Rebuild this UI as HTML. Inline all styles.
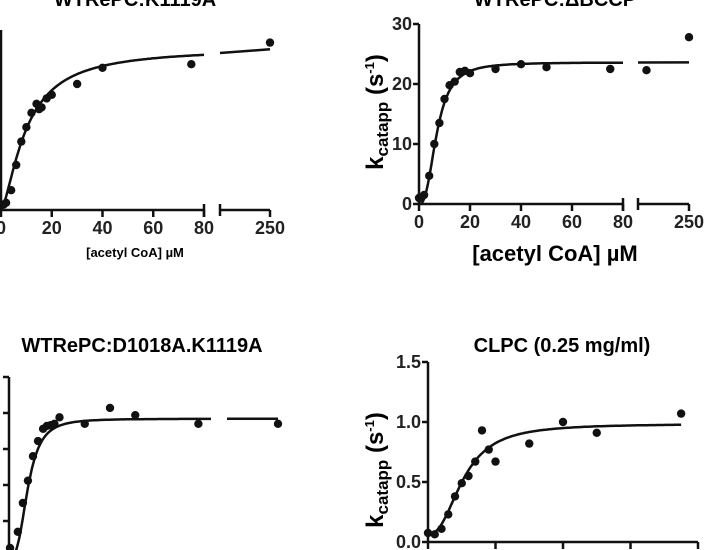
<!DOCTYPE html>
<html><head><meta charset="utf-8"><style>
html,body{margin:0;padding:0;background:#fff;width:720px;height:550px;overflow:hidden}
svg{display:block;font-family:"Liberation Sans",Arial,sans-serif;font-weight:bold}
</style></head><body>
<svg id="fig" width="720" height="550" viewBox="0 0 720 550">
<text x="135" y="6" font-size="20" text-anchor="middle">WTRePC:K1119A</text>
<text x="555" y="6" font-size="20" text-anchor="middle">WTRePC:ΔBCCP</text>
<text x="142" y="352" font-size="20" text-anchor="middle">WTRePC:D1018A.K1119A</text>
<text x="562" y="352" font-size="20" text-anchor="middle">CLPC (0.25 mg/ml)</text>
<text x="135" y="257" font-size="13" text-anchor="middle">[acetyl CoA] µM</text>
<text x="555" y="261" font-size="22" text-anchor="middle">[acetyl CoA] µM</text>
<text transform="translate(383,112) rotate(-90)" font-size="24" text-anchor="middle">k<tspan font-size="17" dy="5">catapp</tspan><tspan dy="-5"> (s</tspan><tspan font-size="13" dy="-9">-1</tspan><tspan dy="9">)</tspan></text>
<text transform="translate(383,470) rotate(-90)" font-size="24" text-anchor="middle">k<tspan font-size="17" dy="5">catapp</tspan><tspan dy="-5"> (s</tspan><tspan font-size="13" dy="-9">-1</tspan><tspan dy="9">)</tspan></text>
</svg>
<script>
// Panel A data
const aX = [1,2,4,6,8,10,12,14,15,16,18,20,30,40,75,250];
const aY = [3,4,11,25,38,46,54,59,56,57,62,64,70,79,81,93];
const aXTicks = [0,20,40,60,80];
const aXTicks2 = [250];
// Panel B data
const bX = [0,2,4,6,8,10,12,14,16,18,20,30,40,50,75,125,250];
const bY = [1,1.5,4.7,10,13.5,17.5,19.8,20.4,22,22.2,21.8,22.5,23.3,22.8,22.5,22.3,27.8];
const bYTicks = [0,10,20,30];
const bXTicks = [0,20,40,60,80];
const bXTicks2 = [250];
// Panel C data
const cX = [0.4,3.5,5.5,7.5,9.5,11.5,13.5,15,16.5,18,20,30,40,50,75,250];
const cY = [1.25,3.5,7.5,10.6,14,16.1,17.8,18.2,18.3,18.5,19.4,18.5,20.7,19.7,18.5,18.5];
const cYTicks = [0,5,10,15,20,25];
// Panel D data
const dX = [0,2,4,6,8,10,12,14,16,18,20,30,40,50,75];
const dY = [0.075,0.064,0.11,0.23,0.38,0.49,0.55,0.67,0.93,0.77,0.67,0.82,1.0,0.91,1.07];
const dYTicks = [0,0.5,1.0,1.5];
const dYLabels = ['0.0','0.5','1.0','1.5'];
const dXTicks = [0,20,40,60,80];

const NS='http://www.w3.org/2000/svg';
const svg=document.getElementById('fig');
function mk(tag,attrs,name,parent){
  const e=document.createElementNS(NS,tag);
  for(const k in attrs)e.setAttribute(k,attrs[k]);
  
  
  (parent||svg).appendChild(e);return e;
}
function hill(v,k,n,x){return v*Math.pow(x,n)/(Math.pow(x,n)+Math.pow(k,n));}

function panel(p){
  const g=mk('g',{},p.id);
  const xs=x=>x<=80?p.x0+(x/80)*(p.x80-p.x0):p.s2a+(x-100)/150*(p.s2b-p.s2a);
  const ys=y=>p.y0-(y-p.ymin)/(p.ymax-p.ymin)*(p.y0-p.ytop);
  mk('line',{x1:p.x0,y1:p.y0,x2:p.x0,y2:p.ytop,stroke:'#111','stroke-width':2.5},'y-axis-line',g);
  (p.yticks||[]).forEach((t,i)=>{
    const y=ys(t);
    mk('line',{x1:p.x0-6,y1:y,x2:p.x0,y2:y,stroke:'#111','stroke-width':2.5},'y-tick',g);
    if(!p.hideYLabels){
      const tx=mk('text',{x:p.x0-7,y:y+6,'font-size':18,'text-anchor':'end',fill:'#222'},'y-tick-label',g);
      tx.textContent=p.ylabels?p.ylabels[i]:t;
    }
  });
  if(p.showX){
    mk('line',{x1:p.x0,y1:p.y0,x2:p.x80,y2:p.y0,stroke:'#111','stroke-width':2.5},'x-axis-line',g);
    p.xticks.forEach(t=>{
      const x=xs(t);
      mk('line',{x1:x,y1:p.y0,x2:x,y2:p.y0+7,stroke:'#111','stroke-width':2.5},'x-tick',g);
      const tx=mk('text',{x:x,y:p.y0+24,'font-size':18,'text-anchor':'middle',fill:'#222'},'x-tick-label',g);
      tx.textContent=t;
    });
    if(p.s2a){
      mk('line',{x1:p.x80,y1:p.y0-6,x2:p.x80,y2:p.y0+7,stroke:'#111','stroke-width':2.5},'axis-break-end',g);
      mk('line',{x1:p.s2a,y1:p.y0,x2:p.s2b,y2:p.y0,stroke:'#111','stroke-width':2.5},'x-axis-line-segment-2',g);
      mk('line',{x1:p.s2a,y1:p.y0-6,x2:p.s2a,y2:p.y0+6,stroke:'#111','stroke-width':2.5},'axis-break-start',g);
      p.xticks2.forEach(t=>{
        const x=xs(t);
        mk('line',{x1:x,y1:p.y0,x2:x,y2:p.y0+7,stroke:'#111','stroke-width':2.5},'x-tick',g);
        const tx=mk('text',{x:x,y:p.y0+24,'font-size':18,'text-anchor':'middle',fill:'#222'},'x-tick-label',g);
        tx.textContent=t;
      });
    }
  }
  let d='';
  for(let i=0;i<=160;i++){const x=i*p.cmax/160;const y=p.base+hill(p.V,p.K,p.n,x);d+=(i?'L':'M')+xs(x).toFixed(1)+','+ys(y).toFixed(1);}
  mk('path',{d:d,fill:'none',stroke:'#111','stroke-width':2.5},'fit-curve',g);
  if(p.s2a){
    const d2='M'+p.s2a+','+ys(p.base+hill(p.V,p.K,p.n,100)).toFixed(1)+'L'+p.s2b+','+ys(p.base+hill(p.V,p.K,p.n,250)).toFixed(1);
    mk('path',{d:d2,fill:'none',stroke:'#111','stroke-width':2.5},'fit-curve-segment-2',g);
  }
  p.X.forEach((x,i)=>{
    mk('circle',{cx:xs(x),cy:ys(p.Y[i]),r:4.2,fill:'#111'},'data-point',g);
  });
}
panel({id:'panel-a',x0:1,x80:204,s2a:220,s2b:270,y0:210,ytop:30,ymin:0,ymax:100,showX:true,xticks:aXTicks,xticks2:aXTicks2,X:aX,Y:aY,V:90,K:10,n:1.5,base:0,cmax:80});
panel({id:'panel-b',x0:419,x80:623,s2a:638,s2b:689,y0:204,ytop:24,ymin:0,ymax:30,showX:true,yticks:bYTicks,xticks:bXTicks,xticks2:bXTicks2,X:bX,Y:bY,V:23.6,K:7,n:2.6,base:0,cmax:80});
panel({id:'panel-c',x0:9,x80:211,s2a:227,s2b:278,y0:557,ytop:377,ymin:0,ymax:25,showX:false,hideYLabels:true,yticks:cYTicks,X:cX,Y:cY,V:19.2,K:7.5,n:3,base:0,cmax:80});
panel({id:'panel-d',x0:428,x80:698,y0:542,ytop:362,ymin:0,ymax:1.5,showX:true,yticks:dYTicks,ylabels:dYLabels,xticks:dXTicks,X:dX,Y:dY,V:0.92,K:10.5,n:2.4,base:0.065,cmax:75});
</script>
</body></html>
